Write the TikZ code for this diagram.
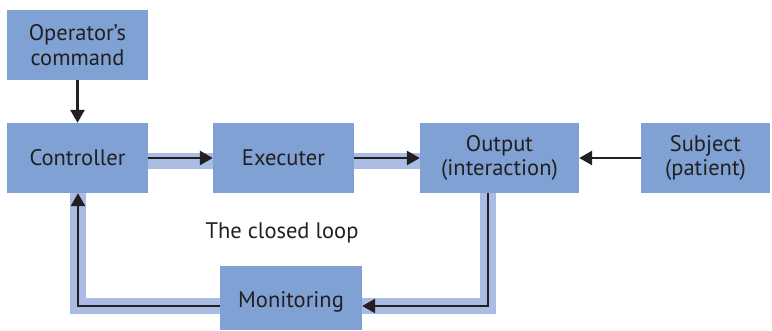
\documentclass[tikz,border=0pt]{standalone}
\usepackage{fontspec}
\setmainfont{PT Sans}
\usetikzlibrary{arrows.meta}
\definecolor{boxblue}{RGB}{127,161,212}
\definecolor{bandblue}{RGB}{170,188,227}
\definecolor{ink}{RGB}{35,31,32}
\tikzset{
  blk/.style={fill=boxblue, draw=none, inner sep=0pt, align=center, text=ink,
    font=\fontsize{22.5}{24.5}\selectfont},
  band/.style={draw=bandblue, line width=16pt},
  link/.style={draw=ink, line width=2.6pt, -{Triangle[length=13pt,width=14pt]}},
  plain/.style={draw=ink, line width=2.6pt}
}
\begin{document}
\begin{tikzpicture}[x=1pt,y=-1pt]
\useasboundingbox (0,0) rectangle (772,330);
% bands
\coordinate (bL) at (78,306);
\coordinate (bR) at (488,306);
\draw[band] (148,160.5) -- (213,160.5);
\draw[band] (354,160.5) -- (420,160.5);
\draw[band] (488,193) -- (bR) -- (bL) -- (78,193);
% boxes
\node[blk, minimum width=141pt, minimum height=70pt] (op) at (77.5,45) {Operator’s\\command};
\node[blk, minimum width=141pt, minimum height=70pt] (ctrl) at (77.5,158) {Controller};
\node[blk, minimum width=141pt, minimum height=70pt] (exec) at (283.5,158) {Executer};
\node[blk, minimum width=159pt, minimum height=70pt] (out) at (499.5,158) {Output\\(interaction)};
\node[blk, minimum width=129pt, minimum height=70pt] (subj) at (705.5,158) {Subject\\(patient)};
\node[blk, minimum width=142pt, minimum height=64pt, text depth=0pt] (mon) at (291,298) {\raisebox{-3pt}{Monitoring}};
\node[text=ink, font=\fontsize{22.5}{24.5}\selectfont] (lbl) at (282,233) {The closed loop};
% connectors
\draw[link] (op.south) -- (ctrl.north);
\draw[link] (ctrl.east) -- (exec.west);
\draw[link] (exec.east) -- (out.west);
\draw[link] (subj.west) -- (out.east);
\draw[link] (out.south -| bR) -- (bR) -- (mon.east |- bR);
\draw[link] (mon.west |- bL) -- (bL) -- (ctrl.south -| bL);
\end{tikzpicture}
\end{document}
